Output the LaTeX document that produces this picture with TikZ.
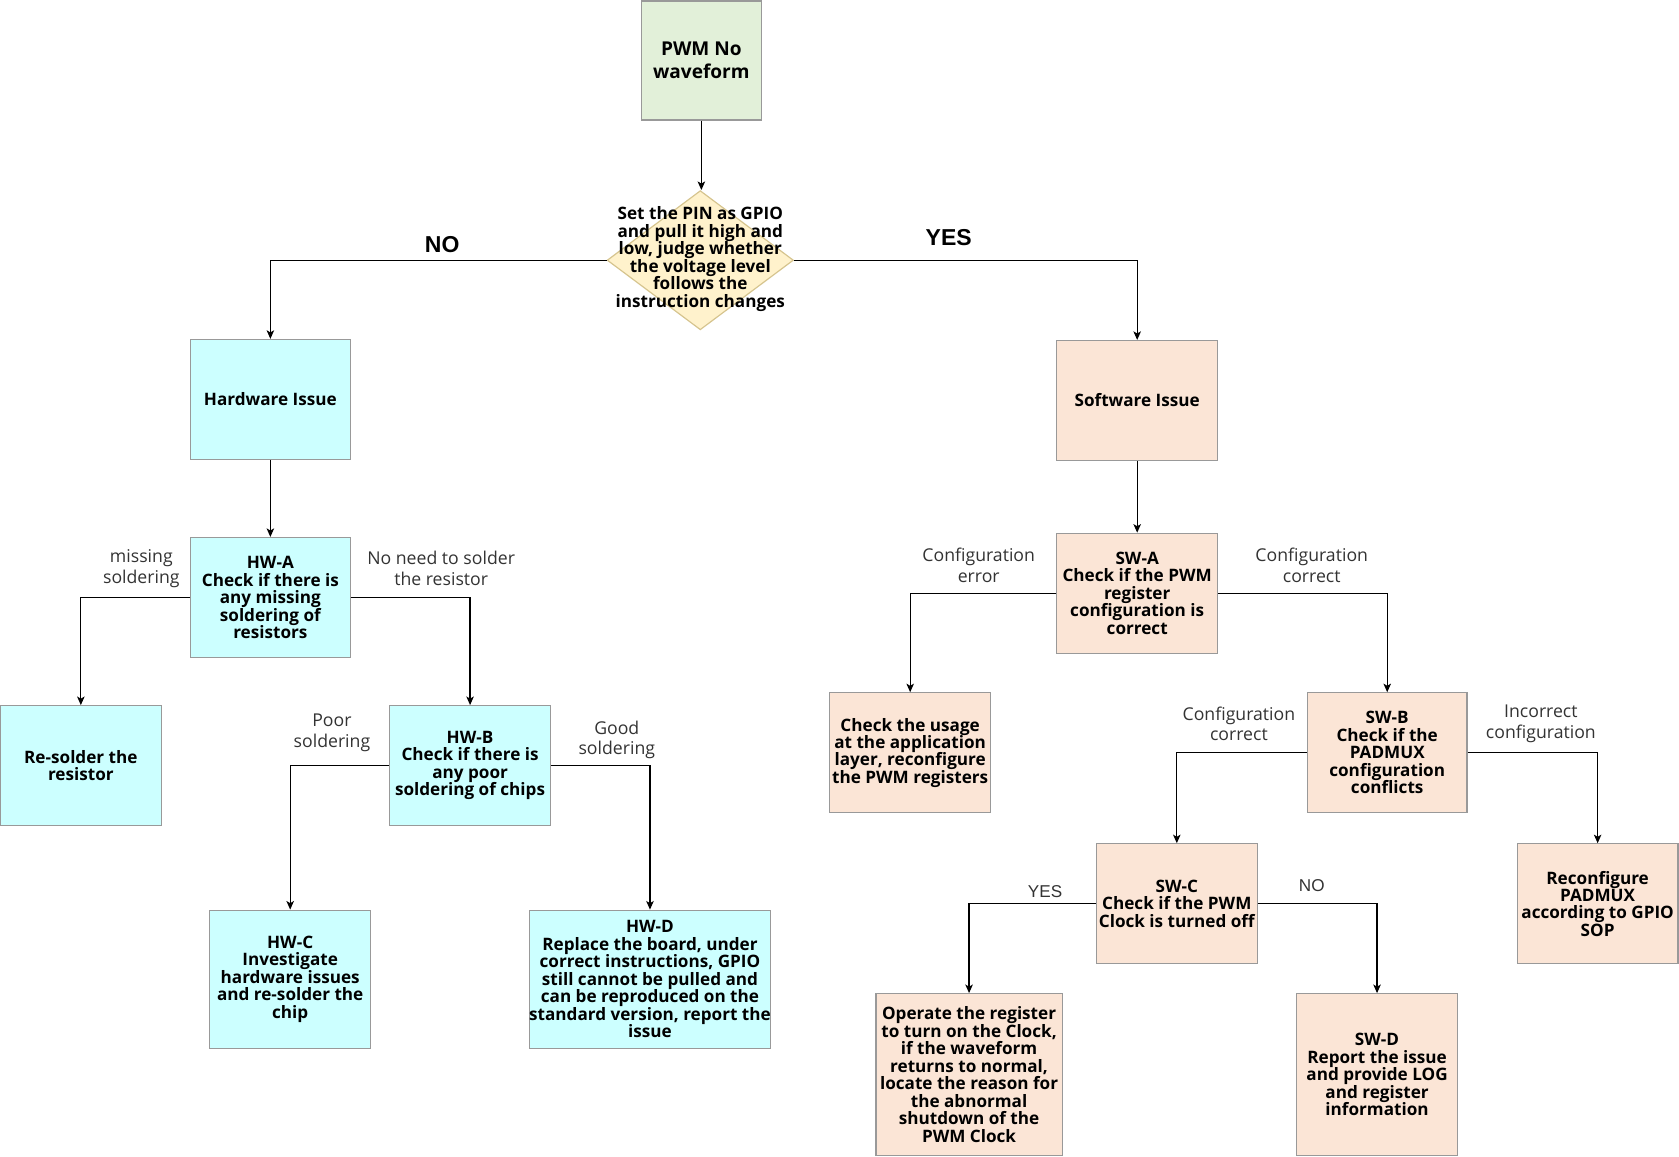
\documentclass[tikz,border=0pt]{standalone}
\usepackage{fontspec}
\setmainfont{Open Sans}
\newfontfamily\arialfont{Liberation Sans}
\usetikzlibrary{arrows.meta,shapes.geometric}
\definecolor{cyanfill}{HTML}{CCFFFF}
\definecolor{peachfill}{HTML}{FBE5D6}
\definecolor{greenfill}{HTML}{E2F0D9}
\definecolor{yellowfill}{HTML}{FFF2CC}
\definecolor{yellowdraw}{HTML}{D6C48E}
\definecolor{boxdraw}{HTML}{999999}
\definecolor{lbltext}{HTML}{333333}
\begin{document}
\begin{tikzpicture}[x=1pt,y=-1pt,
  box/.style={draw=boxdraw,line width=1.1pt,inner sep=0pt,align=center,
    font=\fontsize{16}{16.3}\selectfont\bfseries,text=black},
  hwbox/.style={box,fill=cyanfill},
  swbox/.style={box,fill=peachfill},
  lbl/.style={align=center,font=\fontsize{16.5}{19.5}\selectfont,text=lbltext,inner sep=0pt},
  ynsmall/.style={font=\arialfont\fontsize{16}{19}\selectfont,text=lbltext,inner sep=0pt},
  ynbig/.style={font=\arialfont\fontsize{21.5}{24}\selectfont\bfseries,text=black,inner sep=0pt},
  conn/.style={draw=black,line width=1.1pt,-{Stealth[length=8pt,width=7pt,inset=2pt]}}
]
\fill[white] (0,0) rectangle (1568,1080);
\useasboundingbox (0,0) rectangle (1568,1080);

% top
\node[box,fill=greenfill,minimum width=112pt,minimum height=111pt,
  font=\fontsize{17.8}{21.8}\selectfont\bfseries] (pwm) at (655,56.5) {PWM No\\waveform};
\node[diamond,draw=yellowdraw,fill=yellowfill,line width=1.1pt,inner sep=0pt,
  minimum width=174pt,minimum height=130pt] (dia) at (654,243) {};
\node[align=center,inner sep=0pt,font=\fontsize{16}{16.4}\selectfont\bfseries] (diatext) at (654,242)
  {Set the PIN as GPIO\\and pull it high and\\low, judge whether\\the voltage level\\follows the\\instruction changes};

% hardware side
\node[hwbox,minimum width=149pt,minimum height=112pt] (hw) at (252.5,373) {Hardware Issue};
\node[hwbox,minimum width=149pt,minimum height=112pt] (hwa) at (252.5,558)
  {HW-A\\Check if there is\\any missing\\soldering of\\resistors};
\node[hwbox,minimum width=150pt,minimum height=112pt] (resolder) at (75.5,715)
  {Re-solder the\\resistor};
\node[hwbox,minimum width=150pt,minimum height=112pt] (hwb) at (439,715)
  {HW-B\\Check if there is\\any poor\\soldering of chips};
\node[hwbox,minimum width=150pt,minimum height=129pt] (hwc) at (271,914.5)
  {HW-C\\Investigate\\hardware issues\\and re-solder the\\chip};
\node[hwbox,minimum width=224pt,minimum height=129pt] (hwd) at (607,914.5)
  {HW-D\\Replace the board, under\\correct instructions, GPIO\\still cannot be pulled and\\can be reproduced on the\\standard version, report the\\issue};

% software side
\node[swbox,minimum width=150pt,minimum height=112pt] (sw) at (1062,374) {Software Issue};
\node[swbox,minimum width=150pt,minimum height=112pt] (swa) at (1062,554)
  {SW-A\\Check if the PWM\\register\\configuration is\\correct};
\node[swbox,minimum width=150pt,minimum height=112pt] (usage) at (850,703)
  {Check the usage\\at the application\\layer, reconfigure\\the PWM registers};
\node[swbox,minimum width=149pt,minimum height=112pt] (swb) at (1295.5,703)
  {SW-B\\Check if the\\PADMUX\\configuration\\conflicts};
\node[swbox,minimum width=150pt,minimum height=112pt] (swc) at (1099,844)
  {SW-C\\Check if the PWM\\Clock is turned off};
\node[swbox,minimum width=150pt,minimum height=112pt] (reconf) at (1492,844)
  {Reconfigure\\PADMUX\\according to GPIO\\SOP};
\node[swbox,minimum width=174pt,minimum height=151pt] (operate) at (905,1003.5)
  {Operate the register\\to turn on the Clock,\\if the waveform\\returns to normal,\\locate the reason for\\the abnormal\\shutdown of the\\PWM Clock};
\node[swbox,minimum width=150pt,minimum height=151pt] (swd) at (1286,1003.5)
  {SW-D\\Report the issue\\and provide LOG\\and register\\information};

% connectors
\draw[conn] (pwm.south) -- (pwm.south |- dia.north);
\draw[conn] (dia.west) -| (hw.north);
\draw[conn] (dia.east) -| (sw.north);
\draw[conn] (hw.south) -- (hwa.north);
\draw[conn] (hwa.west) -| (resolder.north);
\draw[conn] (hwa.east) -| (hwb.north);
\draw[conn] (hwb.west) -| (hwc.north);
\draw[conn] (hwb.east) -| (hwd.north);
\draw[conn] (sw.south) -- (swa.north);
\draw[conn] (swa.west) -| (usage.north);
\draw[conn] (swa.east) -| (swb.north);
\draw[conn] (swb.west) -| (swc.north);
\draw[conn] (swb.east) -| (reconf.north);
\draw[conn] (swc.west) -| (operate.north);
\draw[conn] (swc.east) -| (swd.north);

% labels
\node[ynbig] (lno) at (413,228) {NO};
\node[ynbig] (lyes) at (886,222) {YES};
\node[lbl] (lmiss) at (132,531) {missing\\soldering};
\node[lbl] (lnoneed) at (412,531) {No need to solder\\the resistor};
\node[lbl] (lpoor) at (310,684) {Poor\\soldering};
\node[lbl] (lgood) at (576,691) {Good\\soldering};
\node[lbl] (lcerr) at (914,528) {Configuration\\error};
\node[lbl] (lccor) at (1225,528) {Configuration\\correct};
\node[lbl] (lccor2) at (1157,676) {Configuration\\correct};
\node[lbl] (linc) at (1439,676) {Incorrect\\configuration};
\node[ynsmall] (lyes2) at (976,833) {YES};
\node[ynsmall] (lno2) at (1225,827) {NO};
\end{tikzpicture}
\end{document}
